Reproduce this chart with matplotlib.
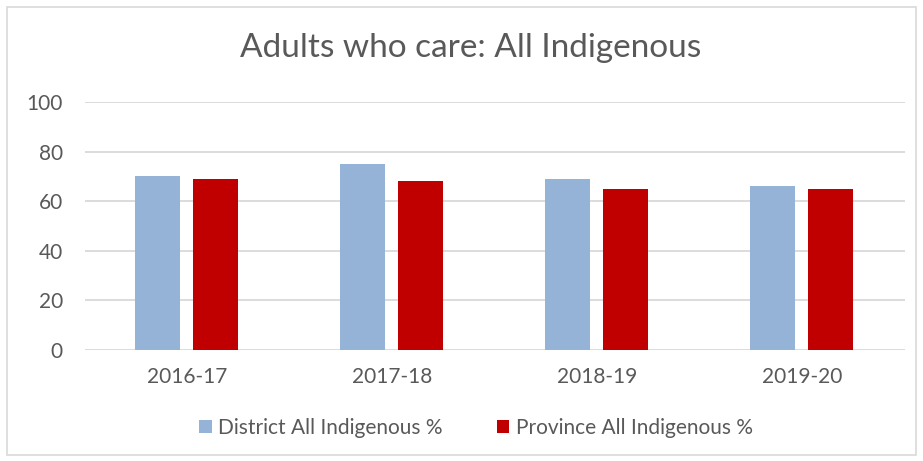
#!/usr/bin/env python3
"""Adults who care: All Indigenous - grouped bars."""

import matplotlib

matplotlib.use("Agg")
import matplotlib.pyplot as plt
import numpy as np
from matplotlib.patches import Rectangle

YEARS = ["2016-17", "2017-18", "2018-19", "2019-20"]
DISTRICT = [70, 75, 69, 66]
PROVINCE = [69, 68, 65, 65]
SERIES_LABELS = ["District All Indigenous %", "Province All Indigenous %"]
COLORS = ["#95B3D7", "#C00000"]
TEXT = "#595959"

plt.rcParams.update({"font.family": ["Lato", "DejaVu Sans"]})

fig = plt.figure(figsize=(9.23, 4.61), dpi=100)
ax = fig.add_axes([85 / 923, 1 - 350 / 461, 820 / 923, 248 / 461])

# chart border
fig.patches.append(Rectangle((7 / 923, 6 / 461), 909 / 923, 448 / 461, transform=fig.transFigure,
                             fill=False, edgecolor="#D9D9D9", lw=1.2))

x = np.arange(len(YEARS))
w = 0.22
ax.bar(x - 0.145, DISTRICT, w, color=COLORS[0], label=SERIES_LABELS[0], zorder=3)
ax.bar(x + 0.135, PROVINCE, w, color=COLORS[1], label=SERIES_LABELS[1], zorder=3)

ax.set_xlim(-0.5, len(YEARS) - 0.5)
ax.set_ylim(0, 100)
ax.set_yticks(range(0, 101, 20))
ax.set_xticks(x)
ax.set_xticklabels(YEARS)
ax.tick_params(axis="both", length=0, labelsize=15, colors=TEXT)
ax.tick_params(axis="x", pad=12)
ax.tick_params(axis="y", pad=16)
ax.grid(axis="y", color="#D9D9D9", lw=1.3, zorder=0)
for s in ax.spines.values():
    s.set_visible(False)

fig.text(471 / 923, 1 - 48 / 461, "Adults who care: All Indigenous", ha="center", va="center",
         fontsize=24, color=TEXT)

fig.legend(loc="center", bbox_to_anchor=(476 / 923, 1 - 428 / 461), ncol=2, frameon=False,
           fontsize=15, labelcolor=TEXT, handlelength=0.6, handleheight=0.6, handletextpad=0.3,
           columnspacing=2.6)

fig.savefig("out.png", dpi=100)
